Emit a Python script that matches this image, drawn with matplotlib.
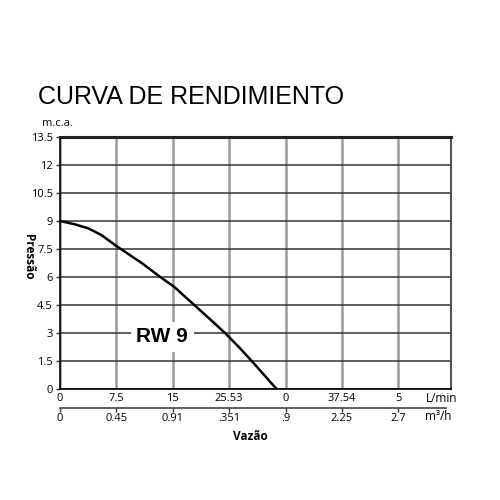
import matplotlib
matplotlib.use("Agg")
import matplotlib.pyplot as plt
from matplotlib.patches import Rectangle

# Data
flow_lpm = [0, 2.0, 3.8, 5.5, 7.5, 9.2, 10.9, 13.5, 15.1, 18.0, 20.0, 22.0, 23.9, 25.5, 28.8]
pressure = [9.0, 8.82, 8.6, 8.25, 7.66, 7.2, 6.74, 5.95, 5.5, 4.45, 3.72, 2.98, 2.2, 1.5, 0.0]
x_ticks = [0, 7.5, 15, 22.5, 30, 37.5, 45]
x_labels_lpm = ["0", "7.5", "15", "25.53", "0", "37.54", "5"]
x_labels_m3h = ["0", "0.45", "0.91", ".351", ".9", "2.25", "2.7"]
y_ticks = [0, 1.5, 3, 4.5, 6, 7.5, 9, 10.5, 12, 13.5]
y_labels = ["0", "1.5", "3", "4.5", "6", "7.5", "9", "10.5", "12", "13.5"]

fig = plt.figure(figsize=(5, 5), dpi=100)
ax = fig.add_axes([0.12, 0.222, 0.782, 0.504])
ax.set_xlim(0, 52)
ax.set_ylim(0, 13.5)

ax.set_xticks(x_ticks)
ax.set_xticklabels(x_labels_lpm, fontsize=8, family="Open Sans")
ax.set_yticks(y_ticks)
ax.set_yticklabels(y_labels, fontsize=8, family="Open Sans")
ax.tick_params(axis="x", length=0, pad=3)
ax.tick_params(axis="y", length=3, width=1, pad=2, color="#333333")

ax.grid(axis="x", color="#9a9a9a", linewidth=1.8, zorder=0)
ax.grid(axis="y", color="#333333", linewidth=1.1, zorder=0)
ax.set_axisbelow(True)

for s in ["left", "bottom"]:
    ax.spines[s].set_color("black")
    ax.spines[s].set_linewidth(1.2)
ax.spines["top"].set_color("#222222")
ax.spines["top"].set_linewidth(2.2)
ax.spines["right"].set_color("#555555")
ax.spines["right"].set_linewidth(1.5)

ax.plot(flow_lpm, pressure, color="black", linewidth=1.8, zorder=3,
        solid_capstyle="butt", solid_joinstyle="round")

ax.text(13.6, 2.79, "RW 9", fontsize=15, fontweight="bold",
        family="Liberation Sans", ha="center", va="center", zorder=4,
        bbox=dict(facecolor="white", edgecolor="none", pad=4))

sec = ax.secondary_xaxis(-0.075)
sec.set_xticks(x_ticks)
sec.set_xticklabels(x_labels_m3h, fontsize=8, family="Open Sans")
sec.tick_params(axis="x", length=3, width=1, pad=1, color="#333333")
sec.spines["bottom"].set_color("#444444")
sec.spines["bottom"].set_linewidth(1.2)
sec.spines["bottom"].set_bounds(0, 51.4)

fig.text(0.076, 0.806, "CURVA DE RENDIMIENTO", fontsize=18,
         family="Liberation Sans", ha="left", va="center")
fig.text(0.084, 0.754, "m.c.a.", fontsize=8, family="Open Sans",
         ha="left", va="center")
fig.text(0.057, 0.486, "Pressão", fontsize=8.5, fontweight="bold",
         family="Open Sans", rotation=270, ha="center", va="center")
fig.text(0.852, 0.204, "L/min", fontsize=8.5, family="Open Sans",
         ha="left", va="center")
fig.text(0.850, 0.168, "m³/h", fontsize=8.5, family="Open Sans",
         ha="left", va="center")
fig.text(0.5, 0.126, "Vazão", fontsize=8.5, fontweight="bold",
         family="Open Sans", ha="center", va="center")

# white mask below the cropped region
fig.patches.append(Rectangle((0, 0), 1, 0.12, transform=fig.transFigure,
                             facecolor="white", edgecolor="none", zorder=10))

fig.savefig("out.png", dpi=100)
